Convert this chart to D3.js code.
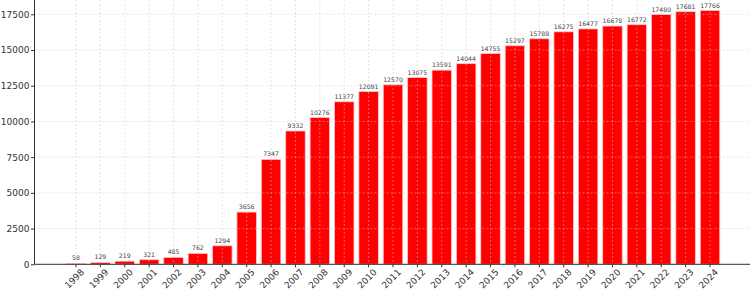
<!DOCTYPE html>
<html><head><meta charset="utf-8">
<script src="https://cdn.jsdelivr.net/npm/d3@7"></script>
<style>body{margin:0;background:#fff;} svg{display:block;}</style>
</head><body>
<svg id="c" width="750" height="291"></svg>
<script>
const years = ["1998","1999","2000","2001","2002","2003","2004","2005","2006","2007","2008","2009","2010","2011","2012","2013","2014","2015","2016","2017","2018","2019","2020","2021","2022","2023","2024"];
const values = [58,129,219,321,485,762,1294,3656,7347,9332,10276,11377,12091,12570,13075,13591,14044,14755,15297,15788,16275,16477,16678,16772,17480,17681,17766];
const yTicks = [0,2500,5000,7500,10000,12500,15000,17500];

const svg = d3.select("#c");
const left = 34.5, right = 750, base = 264.3;
const y = d3.scaleLinear().domain([0,17500]).range([base, 14.3]);
const x = d3.scaleBand().domain(years).range([63.8, 722.2]).paddingInner(0.2).paddingOuter(0.1);

const font = "DejaVu Sans, sans-serif";

// bars
svg.append("g").selectAll("rect").data(values).join("rect")
  .attr("x", (d,i)=>x(years[i]))
  .attr("width", x.bandwidth())
  .attr("y", d=>y(d))
  .attr("height", d=>base - y(d))
  .attr("fill", "#ff0000")
  .attr("stroke", "#ffc8c8")
  .attr("stroke-width", 0.8);

// grid
const grid = svg.append("g").attr("stroke", "#cccccc").attr("stroke-width", 0.6).attr("stroke-dasharray", "2,2").attr("opacity", 0.8);
grid.selectAll(".h").data(yTicks).join("line")
  .attr("x1", left).attr("x2", right).attr("y1", d=>y(d)).attr("y2", d=>y(d));
grid.selectAll(".v").data(years).join("line")
  .attr("x1", d=>x(d)+x.bandwidth()/2).attr("x2", d=>x(d)+x.bandwidth()/2)
  .attr("y1", 0).attr("y2", base);

// value labels
svg.append("g").selectAll("text").data(values).join("text")
  .attr("x", (d,i)=>x(years[i])+x.bandwidth()/2)
  .attr("y", d=>y(d)-3)
  .attr("text-anchor","middle")
  .attr("font-family", font).attr("font-size", 6.2).attr("fill", "#444")
  .text(d=>d);

// y axis
const yAxis = d3.axisLeft(y).tickValues(yTicks).tickSize(3.5).tickPadding(1.5).tickFormat(d3.format("d"));
const gy = svg.append("g").attr("transform", `translate(${left},0)`).call(yAxis);
gy.select(".domain").remove();
gy.selectAll("line").attr("stroke", "#333");
gy.selectAll("text").attr("font-family", font).attr("font-size", 9).attr("fill", "#333");
svg.append("line").attr("x1", left).attr("x2", left).attr("y1", 0).attr("y2", base).attr("stroke", "#333").attr("stroke-width", 1);

// x axis
const xAxis = d3.axisBottom(x).tickSize(3).tickPadding(2);
const gx = svg.append("g").attr("transform", `translate(0,${base})`).call(xAxis);
gx.select(".domain").remove();
gx.selectAll("line").attr("stroke", "#333");
gx.selectAll("text")
  .attr("font-family", font).attr("font-size", 9).attr("fill", "#333")
  .attr("text-anchor", "middle").attr("dy", null).attr("y", null)
  .attr("dominant-baseline", "central")
  .attr("transform", "translate(-1.5,14.5) rotate(-45)");
svg.append("line").attr("x1", left).attr("x2", right).attr("y1", base).attr("y2", base).attr("stroke", "#333").attr("stroke-width", 1);
</script>
</body></html>
